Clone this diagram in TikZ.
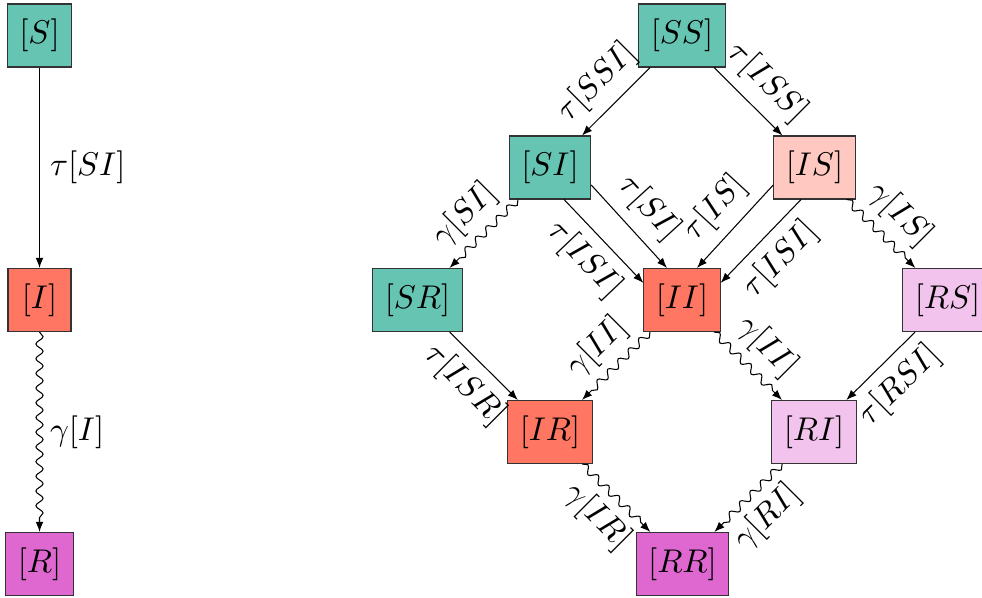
\documentclass[tikz,border=0pt]{standalone}
\usetikzlibrary{decorations.pathmorphing,arrows.meta}
\definecolor{cS}{RGB}{102,196,178}
\definecolor{cI}{RGB}{255,118,98}
\definecolor{cR}{RGB}{222,104,208}
\colorlet{cIl}{cI!40!white}
\colorlet{cRl}{cR!40!white}
\begin{document}
\begin{tikzpicture}[x=0.3333pt,y=-0.3333pt, font=\fontsize{10.5}{12.6}\selectfont,
 box/.style={draw=black!80, line width=0.35pt, minimum width=21pt, minimum height=21pt, inner xsep=4pt, inner ysep=2pt},
 arr/.style={-{Latex[length=3.4pt,width=2.6pt]}, line width=0.35pt},
 wavy/.style={arr, decorate, decoration={snake, amplitude=1.2pt, segment length=4.9pt, post length=3pt}},
 lab/.style={midway, sloped}]
\useasboundingbox (0,0) rectangle (982,597);
% left chain
\node[box, fill=cS] (S) at (39.5,35.5) {$[S]$};
\node[box, fill=cI] (I) at (39.5,300) {$[I]$};
\node[box, fill=cR] (R) at (39.5,564) {$[R]$};
\draw[arr] (S) -- node[midway, right] {$\tau[SI]$} (I);
\draw[wavy] (I) -- node[midway, right] {$\gamma[I]$} (R);
% lattice
\node[box, fill=cS] (SS) at (682,35.5) {$[SS]$};
\node[box, fill=cS] (SI) at (550,167.5) {$[SI]$};
\node[box, fill=cIl] (IS) at (814.5,167.5) {$[IS]$};
\node[box, fill=cS] (SR) at (417.5,300) {$[SR]$};
\node[box, fill=cI] (II) at (682,300) {$[II]$};
\node[box, fill=cRl] (RS) at (947.5,300) {$[RS]$};
\node[box, fill=cI] (IR) at (550,432) {$[IR]$};
\node[box, fill=cRl] (RI) at (814,432) {$[RI]$};
\node[box, fill=cR] (RR) at (682.5,564) {$[RR]$};
\draw[arr] (SS) -- node[lab, above] {$\tau[SSI]$} (SI);
\draw[arr] (SS) -- node[lab, above] {$\tau[ISS]$} (IS);
\draw[wavy] (SI) -- node[lab, above] {$\gamma[SI]$} (SR);
\draw[arr] ([yshift=-5.8pt]SI.east) -- node[lab, above] {$\tau[SI]$} ([xshift=-5pt]II.north);
\draw[arr] ([xshift=4.7pt]SI.south) -- node[lab, below] {$\tau[ISI]$} ([yshift=5.7pt]II.west);
\draw[arr] ([yshift=-5.8pt]IS.west) -- node[lab, above] {$\tau[IS]$} ([xshift=5pt]II.north);
\draw[arr] ([xshift=-4.5pt]IS.south) -- node[lab, below] {$\tau[ISI]$} ([yshift=5.7pt]II.east);
\draw[wavy] (IS) -- node[lab, above] {$\gamma[IS]$} (RS);
\draw[arr] (SR) -- node[lab, below] {$\tau[ISR]$} (IR);
\draw[wavy] (II) -- node[lab, above] {$\gamma[II]$} (IR);
\draw[wavy] (II) -- node[lab, above] {$\gamma[II]$} (RI);
\draw[arr] (RS) -- node[lab, below] {$\tau[RSI]$} (RI);
\draw[wavy] (IR) -- node[lab, below] {$\gamma[IR]$} (RR);
\draw[wavy] (RI) -- node[lab, below] {$\gamma[RI]$} (RR);
\end{tikzpicture}
\end{document}
